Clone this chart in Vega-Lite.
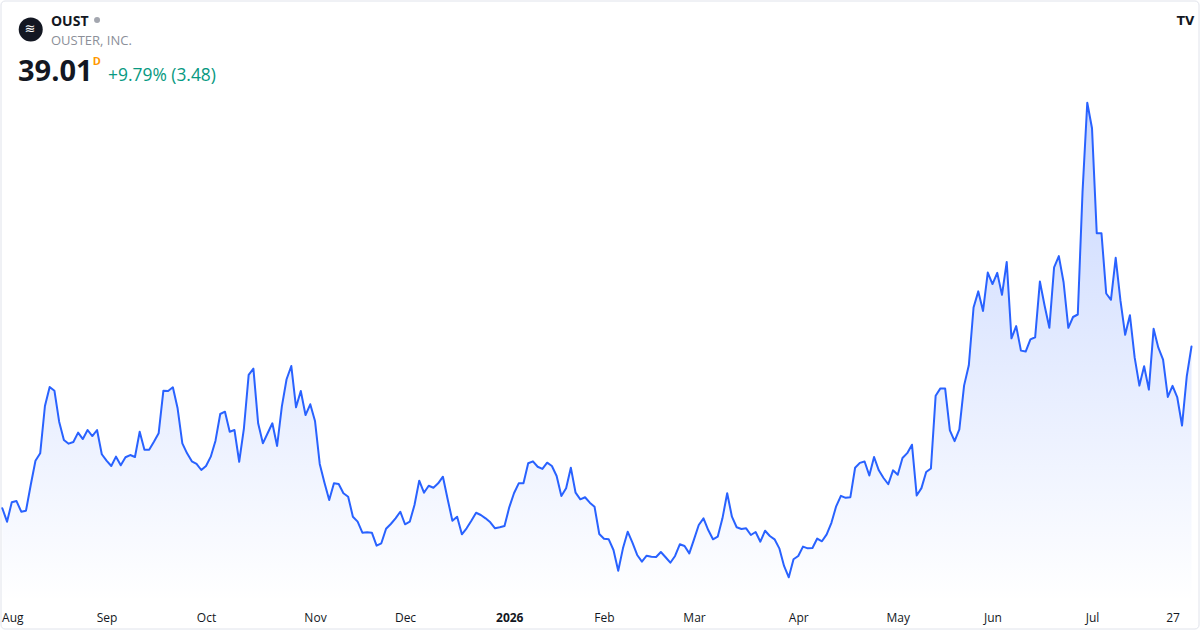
{
  "$schema": "https://vega.github.io/schema/vega-lite/v6.json",
  "width": 1198,
  "height": 628,
  "autosize": {"type": "none"},
  "padding": {"left": 0.5, "top": 0.5, "right": 1.5, "bottom": 1.5},
  "background": "white",
  "config": {"view": {"stroke": "#e0e3eb", "strokeWidth": 1, "cornerRadius": 4}},
  "data": {"values": [
    {"date": "2025-07-31", "close": 20.20}, {"date": "2025-08-01", "close": 18.64}, {"date": "2025-08-04", "close": 20.89}, {"date": "2025-08-05", "close": 21.04},
    {"date": "2025-08-06", "close": 19.80}, {"date": "2025-08-07", "close": 19.92}, {"date": "2025-08-08", "close": 22.91}, {"date": "2025-08-11", "close": 25.73},
    {"date": "2025-08-12", "close": 26.59}, {"date": "2025-08-13", "close": 32.09}, {"date": "2025-08-14", "close": 34.30}, {"date": "2025-08-15", "close": 33.87},
    {"date": "2025-08-18", "close": 30.27}, {"date": "2025-08-19", "close": 28.14}, {"date": "2025-08-20", "close": 27.71}, {"date": "2025-08-21", "close": 27.91},
    {"date": "2025-08-22", "close": 28.99}, {"date": "2025-08-25", "close": 28.25}, {"date": "2025-08-26", "close": 29.30}, {"date": "2025-08-27", "close": 28.60},
    {"date": "2025-08-28", "close": 29.30}, {"date": "2025-08-29", "close": 26.48}, {"date": "2025-09-02", "close": 25.73}, {"date": "2025-09-03", "close": 25.11},
    {"date": "2025-09-04", "close": 26.20}, {"date": "2025-09-05", "close": 25.20}, {"date": "2025-09-08", "close": 26.13}, {"date": "2025-09-09", "close": 26.39},
    {"date": "2025-09-10", "close": 26.16}, {"date": "2025-09-11", "close": 29.10}, {"date": "2025-09-12", "close": 27.01}, {"date": "2025-09-15", "close": 27.01},
    {"date": "2025-09-16", "close": 27.94}, {"date": "2025-09-17", "close": 28.92}, {"date": "2025-09-18", "close": 33.87}, {"date": "2025-09-19", "close": 33.84},
    {"date": "2025-09-22", "close": 34.27}, {"date": "2025-09-23", "close": 31.82}, {"date": "2025-09-24", "close": 27.75}, {"date": "2025-09-25", "close": 26.59},
    {"date": "2025-09-26", "close": 25.66}, {"date": "2025-09-29", "close": 25.35}, {"date": "2025-09-30", "close": 24.65}, {"date": "2025-10-01", "close": 25.11},
    {"date": "2025-10-02", "close": 26.20}, {"date": "2025-10-03", "close": 28.06}, {"date": "2025-10-06", "close": 31.16}, {"date": "2025-10-07", "close": 31.43},
    {"date": "2025-10-08", "close": 29.10}, {"date": "2025-10-09", "close": 29.30}, {"date": "2025-10-10", "close": 25.61}, {"date": "2025-10-13", "close": 29.50},
    {"date": "2025-10-14", "close": 35.70}, {"date": "2025-10-15", "close": 36.43}, {"date": "2025-10-16", "close": 30.08}, {"date": "2025-10-17", "close": 27.75},
    {"date": "2025-10-20", "close": 28.92}, {"date": "2025-10-21", "close": 30.08}, {"date": "2025-10-22", "close": 27.44}, {"date": "2025-10-23", "close": 32.01},
    {"date": "2025-10-24", "close": 35.20}, {"date": "2025-10-27", "close": 36.74}, {"date": "2025-10-28", "close": 31.94}, {"date": "2025-10-29", "close": 33.84},
    {"date": "2025-10-30", "close": 31.04}, {"date": "2025-10-31", "close": 32.29}, {"date": "2025-11-03", "close": 30.35}, {"date": "2025-11-04", "close": 25.35},
    {"date": "2025-11-05", "close": 23.17}, {"date": "2025-11-06", "close": 21.16}, {"date": "2025-11-07", "close": 23.10}, {"date": "2025-11-10", "close": 23.02},
    {"date": "2025-11-11", "close": 21.94}, {"date": "2025-11-12", "close": 21.54}, {"date": "2025-11-13", "close": 19.22}, {"date": "2025-11-14", "close": 18.64},
    {"date": "2025-11-17", "close": 17.36}, {"date": "2025-11-18", "close": 17.41}, {"date": "2025-11-19", "close": 17.36}, {"date": "2025-11-20", "close": 15.85},
    {"date": "2025-11-21", "close": 16.13}, {"date": "2025-11-24", "close": 17.82}, {"date": "2025-11-25", "close": 18.37}, {"date": "2025-11-26", "close": 19.03},
    {"date": "2025-11-28", "close": 19.80}, {"date": "2025-12-01", "close": 18.34}, {"date": "2025-12-02", "close": 18.64}, {"date": "2025-12-03", "close": 20.58},
    {"date": "2025-12-04", "close": 23.41}, {"date": "2025-12-05", "close": 22.01}, {"date": "2025-12-08", "close": 22.82}, {"date": "2025-12-09", "close": 22.59},
    {"date": "2025-12-10", "close": 23.10}, {"date": "2025-12-11", "close": 23.87}, {"date": "2025-12-12", "close": 21.24}, {"date": "2025-12-15", "close": 18.75},
    {"date": "2025-12-16", "close": 19.22}, {"date": "2025-12-17", "close": 17.17}, {"date": "2025-12-18", "close": 17.87}, {"date": "2025-12-19", "close": 18.75},
    {"date": "2025-12-22", "close": 19.68}, {"date": "2025-12-23", "close": 19.42}, {"date": "2025-12-24", "close": 19.03}, {"date": "2025-12-26", "close": 18.57},
    {"date": "2025-12-29", "close": 17.87}, {"date": "2025-12-30", "close": 17.99}, {"date": "2025-12-31", "close": 18.14}, {"date": "2026-01-02", "close": 20.31},
    {"date": "2026-01-05", "close": 21.94}, {"date": "2026-01-06", "close": 23.10}, {"date": "2026-01-07", "close": 23.10}, {"date": "2026-01-08", "close": 25.43},
    {"date": "2026-01-09", "close": 25.66}, {"date": "2026-01-12", "close": 25.03}, {"date": "2026-01-13", "close": 24.77}, {"date": "2026-01-14", "close": 25.50},
    {"date": "2026-01-15", "close": 25.11}, {"date": "2026-01-16", "close": 23.95}, {"date": "2026-01-20", "close": 21.63}, {"date": "2026-01-21", "close": 22.52},
    {"date": "2026-01-22", "close": 24.92}, {"date": "2026-01-23", "close": 22.01}, {"date": "2026-01-26", "close": 21.24}, {"date": "2026-01-27", "close": 21.48},
    {"date": "2026-01-28", "close": 20.85}, {"date": "2026-01-29", "close": 20.38}, {"date": "2026-01-30", "close": 17.21}, {"date": "2026-02-02", "close": 16.66},
    {"date": "2026-02-03", "close": 16.59}, {"date": "2026-02-04", "close": 15.35}, {"date": "2026-02-05", "close": 12.94}, {"date": "2026-02-06", "close": 15.54},
    {"date": "2026-02-09", "close": 17.48}, {"date": "2026-02-10", "close": 16.20}, {"date": "2026-02-11", "close": 14.77}, {"date": "2026-02-12", "close": 13.99},
    {"date": "2026-02-13", "close": 14.68}, {"date": "2026-02-17", "close": 14.57}, {"date": "2026-02-18", "close": 14.53}, {"date": "2026-02-19", "close": 15.11},
    {"date": "2026-02-20", "close": 14.50}, {"date": "2026-02-23", "close": 13.87}, {"date": "2026-02-24", "close": 14.65}, {"date": "2026-02-25", "close": 16.01},
    {"date": "2026-02-26", "close": 15.81}, {"date": "2026-02-27", "close": 14.96}, {"date": "2026-03-02", "close": 16.59}, {"date": "2026-03-03", "close": 18.25},
    {"date": "2026-03-04", "close": 19.03}, {"date": "2026-03-05", "close": 17.67}, {"date": "2026-03-06", "close": 16.59}, {"date": "2026-03-09", "close": 16.89},
    {"date": "2026-03-10", "close": 19.03}, {"date": "2026-03-11", "close": 21.94}, {"date": "2026-03-12", "close": 19.22}, {"date": "2026-03-13", "close": 17.99},
    {"date": "2026-03-16", "close": 17.79}, {"date": "2026-03-17", "close": 17.87}, {"date": "2026-03-18", "close": 17.09}, {"date": "2026-03-19", "close": 17.44},
    {"date": "2026-03-20", "close": 16.31}, {"date": "2026-03-23", "close": 17.59}, {"date": "2026-03-24", "close": 16.98}, {"date": "2026-03-25", "close": 16.59},
    {"date": "2026-03-26", "close": 15.54}, {"date": "2026-03-27", "close": 13.49}, {"date": "2026-03-30", "close": 12.17}, {"date": "2026-03-31", "close": 14.27},
    {"date": "2026-04-01", "close": 14.65}, {"date": "2026-04-02", "close": 15.74}, {"date": "2026-04-06", "close": 15.54}, {"date": "2026-04-07", "close": 15.58},
    {"date": "2026-04-08", "close": 16.68}, {"date": "2026-04-09", "close": 16.36}, {"date": "2026-04-10", "close": 17.17}, {"date": "2026-04-13", "close": 18.51},
    {"date": "2026-04-14", "close": 20.43}, {"date": "2026-04-15", "close": 21.65}, {"date": "2026-04-16", "close": 21.41}, {"date": "2026-04-17", "close": 21.49},
    {"date": "2026-04-20", "close": 24.91}, {"date": "2026-04-21", "close": 25.48}, {"date": "2026-04-22", "close": 25.64}, {"date": "2026-04-23", "close": 24.01},
    {"date": "2026-04-24", "close": 26.16}, {"date": "2026-04-27", "close": 24.61}, {"date": "2026-04-28", "close": 23.72}, {"date": "2026-04-29", "close": 22.99},
    {"date": "2026-04-30", "close": 24.61}, {"date": "2026-05-01", "close": 24.09}, {"date": "2026-05-04", "close": 26.04}, {"date": "2026-05-05", "close": 26.61},
    {"date": "2026-05-06", "close": 27.59}, {"date": "2026-05-07", "close": 21.68}, {"date": "2026-05-08", "close": 22.54}, {"date": "2026-05-11", "close": 24.42},
    {"date": "2026-05-12", "close": 24.82}, {"date": "2026-05-13", "close": 33.29}, {"date": "2026-05-14", "close": 34.14}, {"date": "2026-05-15", "close": 34.14},
    {"date": "2026-05-18", "close": 29.25}, {"date": "2026-05-19", "close": 28.00}, {"date": "2026-05-20", "close": 29.38}, {"date": "2026-05-21", "close": 34.46},
    {"date": "2026-05-22", "close": 36.82}, {"date": "2026-05-26", "close": 43.54}, {"date": "2026-05-27", "close": 45.42}, {"date": "2026-05-28", "close": 43.14},
    {"date": "2026-05-29", "close": 47.61}, {"date": "2026-06-01", "close": 46.27}, {"date": "2026-06-02", "close": 47.57}, {"date": "2026-06-03", "close": 45.01},
    {"date": "2026-06-04", "close": 48.84}, {"date": "2026-06-05", "close": 39.96}, {"date": "2026-06-08", "close": 41.38}, {"date": "2026-06-09", "close": 38.53},
    {"date": "2026-06-10", "close": 38.42}, {"date": "2026-06-11", "close": 39.84}, {"date": "2026-06-12", "close": 40.08}, {"date": "2026-06-15", "close": 46.56},
    {"date": "2026-06-16", "close": 43.74}, {"date": "2026-06-17", "close": 41.18}, {"date": "2026-06-18", "close": 48.22}, {"date": "2026-06-22", "close": 49.52},
    {"date": "2026-06-23", "close": 46.48}, {"date": "2026-06-24", "close": 41.18}, {"date": "2026-06-25", "close": 42.44}, {"date": "2026-06-26", "close": 42.73},
    {"date": "2026-06-29", "close": 56.98}, {"date": "2026-06-30", "close": 67.35}, {"date": "2026-07-01", "close": 64.38}, {"date": "2026-07-02", "close": 52.17},
    {"date": "2026-07-06", "close": 52.17}, {"date": "2026-07-07", "close": 45.17}, {"date": "2026-07-08", "close": 44.44}, {"date": "2026-07-09", "close": 49.32},
    {"date": "2026-07-10", "close": 44.36}, {"date": "2026-07-13", "close": 40.37}, {"date": "2026-07-14", "close": 42.65}, {"date": "2026-07-15", "close": 37.74},
    {"date": "2026-07-16", "close": 34.46}, {"date": "2026-07-17", "close": 36.71}, {"date": "2026-07-20", "close": 33.99}, {"date": "2026-07-21", "close": 41.06},
    {"date": "2026-07-22", "close": 38.87}, {"date": "2026-07-23", "close": 37.49}, {"date": "2026-07-24", "close": 33.14}, {"date": "2026-07-27", "close": 34.44},
    {"date": "2026-07-28", "close": 33.08}, {"date": "2026-07-29", "close": 29.82}, {"date": "2026-07-30", "close": 35.53}, {"date": "2026-07-31", "close": 39.01}
  ]},
  "layer": [
    {
      "mark": {"type": "area", "line": false, "color": {"gradient": "linear", "x1": 0, "y1": 0, "x2": 0, "y2": 1, "stops": [{"offset": 0, "color": "rgba(41,98,255,0.26)"}, {"offset": 1, "color": "rgba(41,98,255,0)"}]}},
      "encoding": {
        "x": {"field": "date", "type": "ordinal",
          "scale": {"type": "point", "padding": 0.9287, "align": 0.2045, "round": false},
          "axis": {"title": null, "values": ["2025-08-01", "2025-09-02", "2025-10-01", "2025-11-03", "2025-12-01", "2026-01-02", "2026-02-02", "2026-03-02", "2026-04-01", "2026-05-01", "2026-06-01", "2026-07-01", "2026-07-27"],
            "labelExpr": "datum.value == '2026-01-02' ? '2026' : (datum.value == '2026-07-27' ? '27' : utcFormat(toDate(datum.value), '%b'))",
            "labelFontWeight": {"condition": {"test": "datum.value == '2026-01-02'", "value": "bold"}, "value": "normal"},
            "labelAngle": 0, "labelFont": "Open Sans", "labelFontSize": 12, "labelColor": "#131722",
            "labelFlush": 20, "labelFlushOffset": 5.5, "labelOverlap": false,
            "ticks": false, "domain": false, "grid": false, "labelPadding": 0, "offset": -16.5}},
        "y": {"field": "close", "type": "quantitative", "scale": {"domain": [6.22, 79.24], "nice": false, "zero": false}, "axis": null},
        "y2": {"datum": 9.30}
      }
    },
    {
      "mark": {"type": "line", "color": "#2962ff", "strokeWidth": 2, "strokeJoin": "round", "strokeCap": "round"},
      "encoding": {
        "x": {"field": "date", "type": "ordinal"},
        "y": {"field": "close", "type": "quantitative", "axis": null}
      }
    },
    {
      "data": {"values": [{"t": "logo"}]},
      "mark": {"type": "point", "shape": "circle", "filled": true, "color": "#131722", "size": 576, "opacity": 1},
      "encoding": {"x": {"datum": "2025-08-08", "type": "ordinal"}, "y": {"datum": 75.87, "type": "quantitative", "axis": null}}
    },
    {
      "data": {"values": [{"t": "≋"}]},
      "mark": {"type": "text", "font": "DejaVu Sans", "fontSize": 13, "color": "white", "align": "center", "baseline": "middle", "dx": -0.7},
      "encoding": {"x": {"datum": "2025-08-08", "type": "ordinal"}, "y": {"datum": 75.87, "type": "quantitative", "axis": null}, "text": {"field": "t"}}
    },
    {
      "data": {"values": [{"t": "OUST"}]},
      "mark": {"type": "text", "font": "Open Sans", "fontSize": 14, "fontWeight": "bold", "color": "#131722", "align": "left", "baseline": "alphabetic", "dx": 1.3},
      "encoding": {"x": {"datum": "2025-08-14", "type": "ordinal"}, "y": {"datum": 76.28, "type": "quantitative", "axis": null}, "text": {"field": "t"}}
    },
    {
      "data": {"values": [{"t": "dot"}]},
      "mark": {"type": "point", "shape": "circle", "filled": true, "color": "#a3a6af", "size": 36, "opacity": 1, "dx": -1},
      "encoding": {"x": {"datum": "2025-08-28", "type": "ordinal"}, "y": {"datum": 76.98, "type": "quantitative", "axis": null}}
    },
    {
      "data": {"values": [{"t": "OUSTER, INC."}]},
      "mark": {"type": "text", "font": "Open Sans", "fontSize": 13, "color": "#8c8f99", "align": "left", "baseline": "alphabetic", "dx": 1.3},
      "encoding": {"x": {"datum": "2025-08-14", "type": "ordinal"}, "y": {"datum": 74.07, "type": "quantitative", "axis": null}, "text": {"field": "t"}}
    },
    {
      "data": {"values": [{"t": "39.01"}]},
      "mark": {"type": "text", "font": "Open Sans", "fontSize": 29, "fontWeight": "bold", "color": "#131722", "align": "left", "baseline": "alphabetic", "dx": 1.5},
      "encoding": {"x": {"datum": "2025-08-05", "type": "ordinal"}, "y": {"datum": 69.88, "type": "quantitative", "axis": null}, "text": {"field": "t"}}
    },
    {
      "data": {"values": [{"t": "D"}]},
      "mark": {"type": "text", "font": "Open Sans", "fontSize": 11, "fontWeight": "bold", "color": "#ff9800", "align": "left", "baseline": "alphabetic", "dx": 0.5},
      "encoding": {"x": {"datum": "2025-08-27", "type": "ordinal"}, "y": {"datum": 71.74, "type": "quantitative", "axis": null}, "text": {"field": "t"}}
    },
    {
      "data": {"values": [{"t": "+9.79% (3.48)"}]},
      "mark": {"type": "text", "font": "Open Sans", "fontSize": 17.4, "color": "#089981", "align": "left", "baseline": "alphabetic", "dx": 1.5},
      "encoding": {"x": {"datum": "2025-09-02", "type": "ordinal"}, "y": {"datum": 69.92, "type": "quantitative", "axis": null}, "text": {"field": "t"}}
    },
    {
      "data": {"values": [{"t": "TV"}]},
      "mark": {"type": "text", "font": "DejaVu Sans", "fontSize": 12, "fontWeight": "bold", "color": "#131722", "align": "center", "baseline": "middle", "dx": -1.3},
      "encoding": {"x": {"datum": "2026-07-30", "type": "ordinal"}, "y": {"datum": 76.86, "type": "quantitative", "axis": null}, "text": {"field": "t"}}
    }
  ]
}
